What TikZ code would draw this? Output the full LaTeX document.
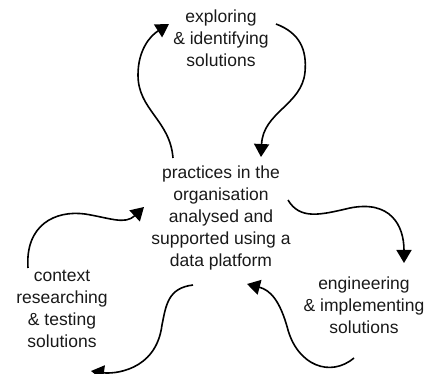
\documentclass[tikz,border=0pt]{standalone}
\usepackage{fontspec}
\setmainfont{Liberation Sans}
\usetikzlibrary{arrows.meta}

\begin{document}
\begin{tikzpicture}[
  x=1pt, y=-1pt,
  phase/.style={
    align=center, inner sep=0pt,
    font=\fontsize{17.5}{22}\selectfont, text=black!90
  },
  loop/.style={-{Triangle[length=13pt, width=15pt]}, line width=1.6pt, black},
]

% ---------------------------------------------------------------
% Canvas: 426 x 374 (pixel units), y pointing down
% ---------------------------------------------------------------
\useasboundingbox (0,0) rectangle (426,374);

% ===== Text blocks =====
\node[phase] (practice) at (221,218)
  {practices in the\\organisation\\analysed and\\supported using a\\data platform};
\node[phase] (explore) at (221,38) {exploring\\\& identifying\\solutions};
\node[phase] (engineer) at (364,305) {engineering\\\& implementing\\solutions};
\node[phase] (context) at (62,309) {context\\researching\\\& testing\\solutions};

% ===== Free ends of the loops =====
\coordinate (up1) at (173,158);  \coordinate (up2) at (169,24);
\coordinate (dn1) at (276,24);   \coordinate (dn2) at (261,157);
\coordinate (rt1) at (288,200);  \coordinate (rt2) at (404,263);
\coordinate (bk1) at (354,358);  \coordinate (bk2) at (247,284);
\coordinate (lf1) at (193,285);  \coordinate (lf2) at (91,371);
\coordinate (in1) at (28,268);   \coordinate (in2) at (144,207);

% practice -> exploring
\draw[loop] (up1) .. controls (170,120) and (138,110) .. (138,75)
  .. controls (138,50) and (150,36) .. (up2);
% exploring -> practice
\draw[loop] (dn1) .. controls (300,33) and (307,50) .. (305,72)
  .. controls (302,105) and (263,112) .. (dn2);

% practice -> engineering
\draw[loop] (rt1) .. controls (300,220) and (320,215) .. (350,208)
  .. controls (390,200) and (404,225) .. (rt2);
% engineering -> practice
\draw[loop] (bk1) .. controls (330,378) and (298,365) .. (288,330)
  .. controls (280,300) and (270,290) .. (bk2);

% practice -> context
\draw[loop] (lf1) .. controls (168,288) and (166,305) .. (162,325)
  .. controls (156,372) and (112,374) .. (lf2);
% context -> practice
\draw[loop] (in1) .. controls (25,225) and (55,210) .. (85,214)
  .. controls (110,218) and (125,225) .. (in2);

\end{tikzpicture}
\end{document}
